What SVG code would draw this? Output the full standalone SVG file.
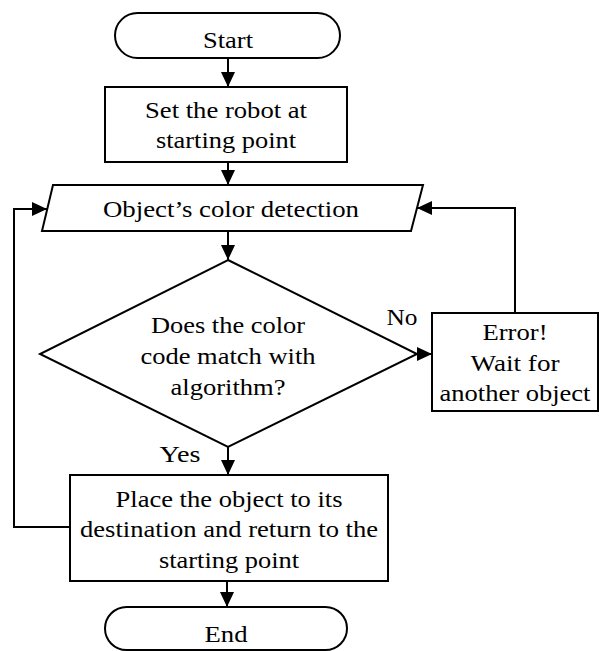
<svg xmlns="http://www.w3.org/2000/svg" width="599" height="651" viewBox="0 0 599 651">
  <style>
    .shape { fill: #ffffff; stroke: #000000; stroke-width: 2; }
    .wire { fill: none; stroke: #000000; stroke-width: 2; }
    .lbl { font-family: "Liberation Serif", "Times New Roman", serif; font-size: 23px; fill: #000000; text-anchor: middle; }
  </style>
  <defs>
    <marker id="arrow" markerUnits="userSpaceOnUse" markerWidth="16" markerHeight="14" refX="15" refY="7" orient="auto">
      <path d="M0,0 L15,7 L0,14 Z" fill="#000000"/>
    </marker>
  </defs>

  <rect width="599" height="651" fill="#ffffff"/>

  <!-- connectors -->
  <g id="connectors" class="wire">
    <line x1="228" y1="58" x2="228" y2="87" marker-end="url(#arrow)"/>
    <line x1="228" y1="162" x2="228" y2="185" marker-end="url(#arrow)"/>
    <line x1="228" y1="231" x2="228" y2="260" marker-end="url(#arrow)"/>
    <line x1="228" y1="447" x2="228" y2="475" marker-end="url(#arrow)"/>
    <line x1="227" y1="581" x2="227" y2="607" marker-end="url(#arrow)"/>
    <line x1="417" y1="354" x2="432" y2="354" marker-end="url(#arrow)"/>
    <polyline points="515,313 515,208 417,208" marker-end="url(#arrow)"/>
    <polyline points="70,527 14,527 14,209 47,209" marker-end="url(#arrow)"/>
  </g>

  <!-- nodes -->
  <g id="start" class="lbl">
    <rect class="shape" x="115" y="13" width="225" height="45" rx="22.5" ry="22.5"/>
    <text x="228" y="48" textLength="50" lengthAdjust="spacingAndGlyphs">Start</text>
  </g>

  <g id="set-robot" class="lbl">
    <rect class="shape" x="105" y="87" width="242" height="75"/>
    <text x="226" y="118" textLength="162" lengthAdjust="spacingAndGlyphs">Set the robot at</text>
    <text x="226" y="148" textLength="140" lengthAdjust="spacingAndGlyphs">starting point</text>
  </g>

  <g id="color-detection" class="lbl">
    <polygon class="shape" points="53,185 423,185 411,231 42,231"/>
    <text x="231" y="217" textLength="256" lengthAdjust="spacingAndGlyphs">Object’s color detection</text>
  </g>

  <g id="decision" class="lbl">
    <polygon class="shape" points="228,260 417,354 228,447 40,354"/>
    <text x="228" y="333" textLength="154" lengthAdjust="spacingAndGlyphs">Does the color</text>
    <text x="228" y="364" textLength="175" lengthAdjust="spacingAndGlyphs">code match with</text>
    <text x="228" y="395" textLength="115" lengthAdjust="spacingAndGlyphs">algorithm?</text>
  </g>

  <g id="label-no" class="lbl">
    <text x="402" y="325" textLength="31" lengthAdjust="spacingAndGlyphs">No</text>
  </g>
  <g id="label-yes" class="lbl">
    <text x="180" y="462" textLength="41" lengthAdjust="spacingAndGlyphs">Yes</text>
  </g>

  <g id="error" class="lbl">
    <rect class="shape" x="432" y="313" width="166" height="98"/>
    <text x="515" y="340" textLength="65" lengthAdjust="spacingAndGlyphs">Error!</text>
    <text x="515" y="371" textLength="89" lengthAdjust="spacingAndGlyphs">Wait for</text>
    <text x="515" y="401" textLength="151" lengthAdjust="spacingAndGlyphs">another object</text>
  </g>

  <g id="place-object" class="lbl">
    <rect class="shape" x="70" y="475" width="318" height="106"/>
    <text x="229" y="507" textLength="227" lengthAdjust="spacingAndGlyphs">Place the object to its</text>
    <text x="229" y="537" textLength="298" lengthAdjust="spacingAndGlyphs">destination and return to the</text>
    <text x="229" y="568" textLength="140" lengthAdjust="spacingAndGlyphs">starting point</text>
  </g>

  <g id="end" class="lbl">
    <rect class="shape" x="105" y="607" width="242" height="43" rx="21.5" ry="21.5"/>
    <text x="226" y="642" textLength="43" lengthAdjust="spacingAndGlyphs">End</text>
  </g>
</svg>
